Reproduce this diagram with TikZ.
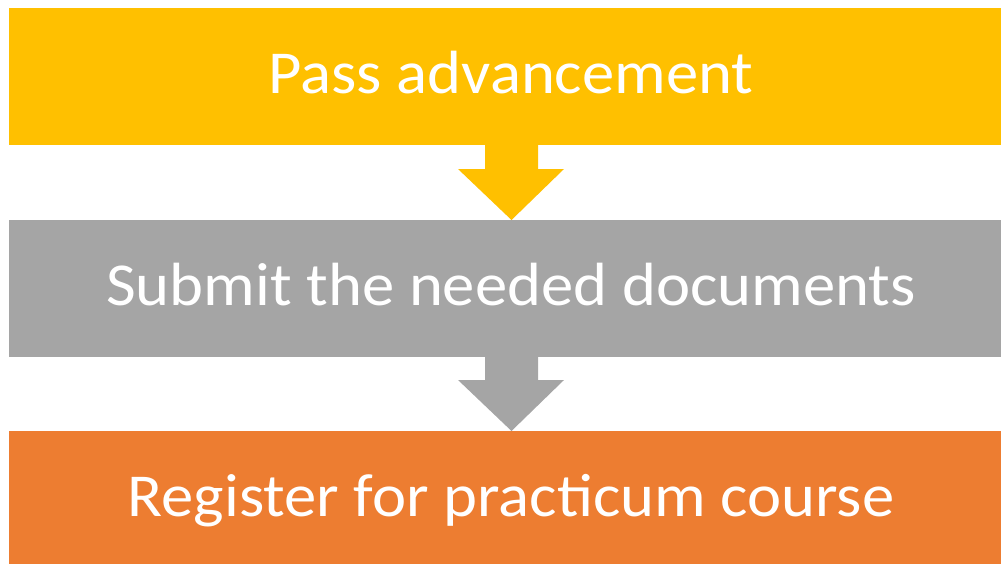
\documentclass[tikz,border=0pt]{standalone}
\usepackage{fontspec}
\setmainfont{Carlito}[FakeStretch=1.06]
\definecolor{cyellow}{HTML}{FFC000}
\definecolor{cgray}{HTML}{A5A5A5}
\definecolor{corange}{HTML}{ED7D31}
\begin{document}
\begin{tikzpicture}[x=1pt,y=-1pt,
  lbl/.style={text=white,font=\fontsize{61}{64}\selectfont,anchor=base,inner sep=0pt}]
\useasboundingbox (0,0) rectangle (1001,563);
\begin{scope}
\clip (0,0) rectangle (1001,563);
\fill[cyellow] (9,8) rectangle (1014,145);
\fill[cgray] (9,220) rectangle (1014,357);
\fill[corange] (9,431) rectangle (1014,568);
\end{scope}
\node[lbl] (a) at (511,93) {Pass advancement};
\node[lbl] (b) at (511,305) {Submit the needed documents};
\node[lbl] (c) at (511,516) {Register for practicum course};
\fill[cyellow] (485,145) -- (538,145) -- (538,169) -- (564,169) -- (511.5,220) -- (458,169) -- (485,169) -- cycle;
\fill[cgray] (485,357) -- (538,357) -- (538,380) -- (564,380) -- (511.5,431) -- (458,380) -- (485,380) -- cycle;
\end{tikzpicture}
\end{document}
